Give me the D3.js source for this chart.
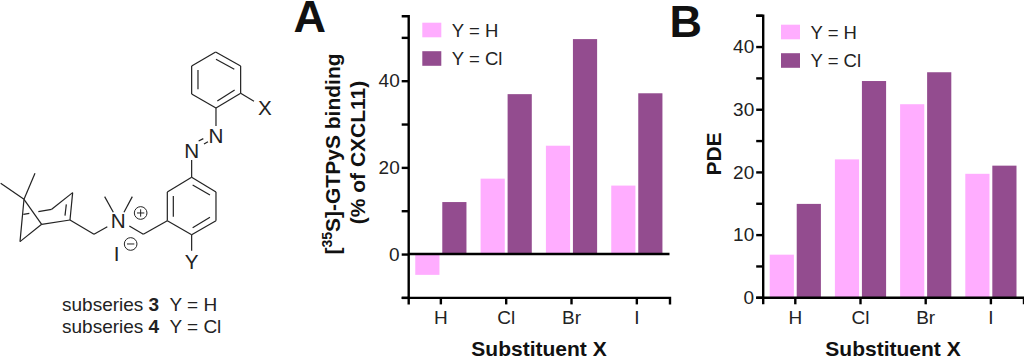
<!DOCTYPE html>
<html>
<head>
<meta charset="utf-8">
<script src="https://cdn.jsdelivr.net/npm/d3@7"></script>
<style>
  body { margin: 0; background: #fff; }
  svg { display: block; }
  text { font-family: "Liberation Sans", Arial, sans-serif; fill: #222; }
  .bold { font-weight: bold; fill: #111; }
</style>
</head>
<body>
<div id="chart"></div>
<script>
var categories = ["H", "Cl", "Br", "I"];
var seriesNames = ["Y = H", "Y = Cl"];
var bindingH = [-4.8, 17.4, 25.0, 15.8];
var bindingCl = [12.0, 36.9, 49.6, 37.1];
var pdeH = [6.8, 22.0, 30.8, 19.7];
var pdeCl = [14.9, 34.5, 35.9, 21.0];
var bindingTicks = [-10, 0, 10, 20, 30, 40, 50];
var bindingLabels = [0, 20, 40];
var pdeTicks = [0, 5, 10, 15, 20, 25, 30, 35, 40, 45];
var pdeLabels = [0, 10, 20, 30, 40];

var colors = ["#ffadff", "#934c8f"];

var svg = d3.select("#chart").append("svg")
    .attr("width", 1024)
    .attr("height", 359);

function drawPanel(o) {
  var x = d3.scaleBand().domain(categories).range(o.xRange);
  var y = d3.scaleLinear().domain(o.yDomain).range(o.yRange);
  var sub = d3.scaleBand().domain(seriesNames).range([-25.6, 25.6]).paddingInner(0.105);

  var g = svg.append("g");

  o.series.forEach(function (vals, i) {
    g.selectAll(null)
      .data(vals)
      .join("rect")
      .attr("x", function (d, j) { return x(categories[j]) + x.bandwidth() / 2 + sub(seriesNames[i]); })
      .attr("y", function (d) { return y(Math.max(d, 0)); })
      .attr("width", sub.bandwidth())
      .attr("height", function (d) { return Math.abs(y(d) - y(0)); })
      .attr("fill", colors[i]);
  });

  var yAxis = d3.axisLeft(y)
    .tickValues(o.ticks)
    .tickSize(6.5)
    .tickPadding(2)
    .tickFormat(function (d) { return o.labels.indexOf(d) >= 0 ? d : ""; });
  var xAxis = d3.axisBottom(x).tickSize(7).tickPadding(6);

  var ya = g.append("g").attr("transform", "translate(" + o.xRange[0] + ",0)").call(yAxis);
  var xa = g.append("g").attr("transform", "translate(0," + o.yRange[0] + ")").call(xAxis);
  [ya, xa].forEach(function (a) {
    a.selectAll("path, line").attr("stroke", "#000").attr("stroke-width", 2.4);
    a.selectAll("text").attr("font-size", 19).attr("fill", "#222")
      .attr("font-family", '"Liberation Sans", Arial, sans-serif');
  });

  if (o.zeroLine) {
    g.append("line")
      .attr("x1", o.xRange[0]).attr("x2", o.xRange[1])
      .attr("y1", y(0)).attr("y2", y(0))
      .attr("stroke", "#000").attr("stroke-width", 2.4);
  }

  // legend
  seriesNames.forEach(function (name, i) {
    g.append("rect")
      .attr("x", o.legendX).attr("y", o.legendY + i * 28.5)
      .attr("width", 19).attr("height", 14.6)
      .attr("fill", colors[i]);
    g.append("text")
      .attr("x", o.legendX + 29.5).attr("y", o.legendY + i * 28.5 + 14)
      .attr("font-size", 18.5)
      .text(name);
  });

  g.append("text")
    .attr("class", "bold")
    .attr("x", o.xTitleX).attr("y", 356)
    .attr("text-anchor", "middle")
    .attr("font-size", 21)
    .text("Substituent X");

  g.append("text")
    .attr("class", "bold")
    .attr("x", o.letterX).attr("y", o.letterY)
    .attr("font-size", 45)
    .text(o.letter);
}

drawPanel({
  series: [bindingH, bindingCl],
  xRange: [408.2, 669.5], yRange: [297.4, 15.7], yDomain: [-10, 55],
  ticks: bindingTicks, labels: bindingLabels, zeroLine: true,
  legendX: 422.3, legendY: 22.7, xTitleX: 539,
  letter: "A", letterX: 293.5, letterY: 32
});

drawPanel({
  series: [pdeH, pdeCl],
  xRange: [762.7, 1023.5], yRange: [297.3, 15.2], yDomain: [0, 45],
  ticks: pdeTicks, labels: pdeLabels, zeroLine: false,
  legendX: 781, legendY: 24.7, xTitleX: 893,
  letter: "B", letterX: 669.5, letterY: 37
});

// y titles
var t1 = svg.append("text")
  .attr("class", "bold")
  .attr("transform", "translate(340,154) rotate(-90)")
  .attr("text-anchor", "middle")
  .attr("font-size", 21);
t1.append("tspan").text("[");
t1.append("tspan").attr("font-size", 14).attr("dy", -8).text("35");
t1.append("tspan").attr("dy", 8).text("S]-GTPyS binding");

svg.append("text")
  .attr("class", "bold")
  .attr("transform", "translate(365,152.5) rotate(-90)")
  .attr("text-anchor", "middle")
  .attr("font-size", 21)
  .text("(% of CXCL11)");

svg.append("text")
  .attr("class", "bold")
  .attr("transform", "translate(721,154) rotate(-90)")
  .attr("text-anchor", "middle")
  .attr("font-size", 21)
  .text("PDE");

// structure drawing, traced at 3x so the group is scaled down
var mol = svg.append("g").attr("transform", "translate(0,40) scale(0.3333)");
var bonds = [
  [647,36,722,78],[722,78,722,160],[722,160,648,204],[648,204,575,162],[575,162,575,78],[575,78,647,36],
  [648,58,703,88],[704,150,652,183],[594,148,594,90],
  [722,160,762,184],[648,204,648,258],
  [596,303,610,296],[612,312,624,305],
  [575,360,575,412],
  [575,412,648,456],[648,456,648,542],[648,542,575,584],[575,584,502,542],[502,542,502,456],[502,456,575,412],
  [578,435,630,465],[630,532,578,563],[520,530,520,468],
  [575,584,575,632],
  [502,542,430,583],[430,583,388,558],
  [340,517,314,470],[372,517,397,470],
  [322,560,282,583],[282,583,210,540],
  [210,540,218,458],[195,527,199,493],[218,458,155,508],[155,508,115,515],
  [210,540,125,553],[125,553,72,478],[125,553,60,605],[60,605,72,478],
  [72,478,2,430],[72,478,105,400],[70,523,88,520]
];
mol.selectAll("line.bond")
  .data(bonds)
  .join("line")
  .attr("class", "bond")
  .attr("x1", function (d) { return d[0]; })
  .attr("y1", function (d) { return d[1]; })
  .attr("x2", function (d) { return d[2]; })
  .attr("y2", function (d) { return d[3]; })
  .attr("stroke", "#222")
  .attr("stroke-width", 3.6);

var atoms = [["X",795,226],["N",648,310],["N",575,354],["Y",575,688],["N",355,564],["I",350,663]];
mol.selectAll("text.atom")
  .data(atoms)
  .join("text")
  .attr("class", "atom")
  .attr("x", function (d) { return d[1]; })
  .attr("y", function (d) { return d[2]; })
  .attr("text-anchor", "middle")
  .attr("font-size", 62)
  .text(function (d) { return d[0]; });

[[422,519,"+"],[392,612,"-"]].forEach(function (c) {
  mol.append("circle").attr("cx", c[0]).attr("cy", c[1]).attr("r", 19)
    .attr("fill", "none").attr("stroke", "#222").attr("stroke-width", 3);
  mol.append("line").attr("x1", c[0] - 11).attr("x2", c[0] + 11)
    .attr("y1", c[1]).attr("y2", c[1]).attr("stroke", "#222").attr("stroke-width", 3);
  if (c[2] == "+") {
    mol.append("line").attr("x1", c[0]).attr("x2", c[0])
      .attr("y1", c[1] - 11).attr("y2", c[1] + 11).attr("stroke", "#222").attr("stroke-width", 3);
  }
});

[["subseries ", "3", "  Y = H", 310.5], ["subseries ", "4", "  Y = Cl", 333]].forEach(function (r) {
  var t = svg.append("text")
    .attr("x", 62).attr("y", r[3])
    .attr("font-size", 19)
    .style("white-space", "pre");
  t.append("tspan").text(r[0]);
  t.append("tspan").attr("font-weight", "bold").text(r[1]);
  t.append("tspan").text(r[2]);
});
</script>
</body>
</html>
